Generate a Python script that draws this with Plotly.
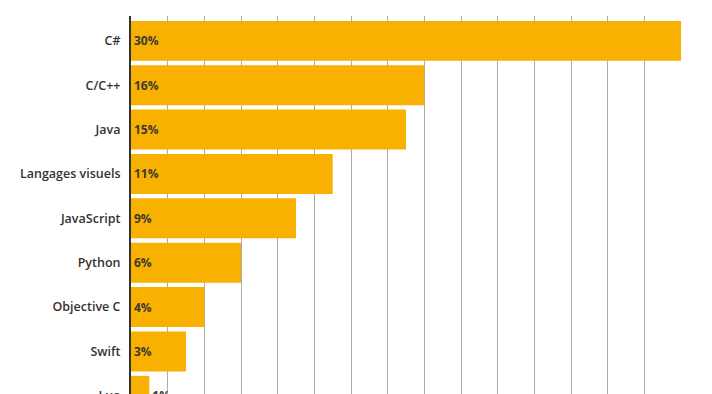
import plotly.graph_objects as go

languages = ["C#", "C/C++", "Java", "Langages visuels", "JavaScript", "Python",
             "Objective C", "Swift", "Lua"]
shares = [30, 16, 15, 11, 9, 6, 4, 3, 1]
grid_ticks = [2, 4, 6, 8, 10, 12, 14, 16, 18, 20, 22, 24, 26, 28]

labels = [f"{v}%" for v in shares]
positions = ["outside" if v < 2 else "inside" for v in shares]

fig = go.Figure(go.Bar(
    x=shares, y=languages, orientation="h",
    marker=dict(color="#F8B100", line=dict(width=0)),
    text=labels, textposition=positions, insidetextanchor="start",
    textfont=dict(family="Open Sans", size=12, color="#3d3a30", weight=700),
    outsidetextfont=dict(family="Open Sans", size=12, color="#3d3a30", weight=700),
    cliponaxis=False,
))

fig.update_layout(
    width=712, height=440,
    margin=dict(l=131, r=31, t=16, b=22),
    paper_bgcolor="white", plot_bgcolor="white",
    bargap=0.1, showlegend=False,
    font=dict(family="Open Sans", size=12, color="#333333"),
)
fig.update_xaxes(range=[0, 30], tickvals=grid_ticks, showticklabels=False,
                 showgrid=True, gridcolor="#ababab", gridwidth=1,
                 zeroline=False, showline=False, ticks="")
fig.update_yaxes(categoryorder="array", categoryarray=languages,
                 range=[8.5, -0.56], showline=True, linecolor="#333333", linewidth=2,
                 ticks="", ticklabelstandoff=6, showgrid=False,
                 tickfont=dict(family="Open Sans", size=12.5, color="#333333", weight=600))

fig.write_html("out.html", config={"displayModeBar": False},
               post_script="document.body.style.overflow='hidden';document.body.style.margin='0';")
